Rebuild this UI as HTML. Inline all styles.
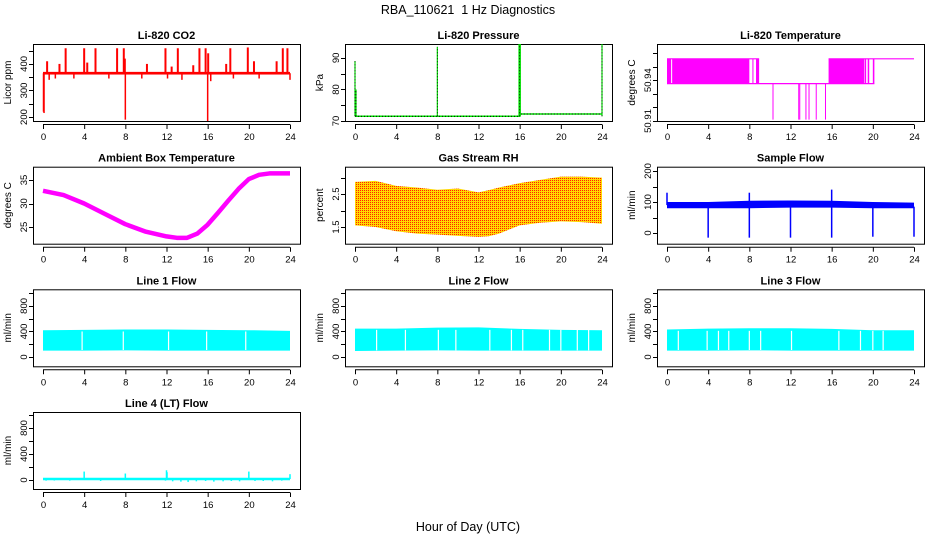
<!DOCTYPE html>
<html><head><meta charset="utf-8"><style>
html,body{margin:0;padding:0;background:#fff}
svg{display:block;font-family:"Liberation Sans",sans-serif}
</style></head><body>
<svg id="chart" width="936" height="540" viewBox="0 0 936 540" xmlns="http://www.w3.org/2000/svg">
<defs>
<pattern id="chk" width="2" height="2" patternUnits="userSpaceOnUse">
<rect width="2" height="2" fill="#ffd800"/><rect width="1" height="1" fill="#ff2000"/>
</pattern>
</defs>
<text x="468" y="14" text-anchor="middle" font-size="12.5">RBA_110621&#160; 1 Hz Diagnostics</text>
<text x="468" y="531" text-anchor="middle" font-size="12.5">Hour of Day (UTC)</text>
</svg>
<script>
// ---- data ----
const xTicks=[0,4,8,12,16,20,24];
const co2Base=365;
const co2SpikeHours=[0.4,1.6,2.2,4.0,4.3,5.1,7.2,7.85,7.95,10.1,11.9,12.5,13.1,14.6,15.2,15.8,16.05,17.8,18.2,19.9,20.5,22.7,23.3,23.75];
const co2SpikeValues=[410,400,459,459,405,459,459,459,420,400,459,390,459,395,459,459,440,400,459,462,410,410,459,459];
const co2DipHours=[0.05,0.1,8.0,16.0,0.6,1.2,3.0,6.4,9.6,12.1,13.5,16.3,18.5,21.0,24.0];
const co2DipValues=[220,215,190,185,340,345,345,345,345,345,340,335,345,345,340];
const pressBaseHours=[0,16,16,24];
const pressBaseValues=[71.5,71.5,72.2,72.2];
const pressSpikeHours=[0,0.1,8,16,24];
const pressSpikeValues=[89,80,93.5,94.4,94.4];
const tempHi=50.9557, tempLo=50.9375, tempMin=50.911;
const tempHiStart=[0,15.7], tempHiEnd=[8.95,24];
const tempLoStart=[0], tempLoEnd=[20.15];
const tempBlockStart=[0,0.5,8.3,8.65,15.7,19.2,19.5,20.0];
const tempBlockEnd=[0.4,8.0,8.4,8.95,19.15,19.35,19.65,20.15];
const tempSpikeHours=[10.3,12.8,12.9,13.5,13.8,14.5,15.4];
const ambHours=[0,2,4,6,8,10,12,13,14,15,16,17,18,19,20,21,22,24];
const ambValues=[32.7,31.8,30,27.8,25.6,24,23,22.7,22.7,23.6,25.5,28,30.6,33.1,35.2,36.1,36.4,36.4];
const rhHours=[0,2,4,6,8,10,12,13,14,16,18,20,22,24];
const rhTop=[2.87,2.9,2.75,2.7,2.63,2.67,2.55,2.62,2.7,2.83,2.93,3.03,3.03,3.0];
const rhBottom=[1.55,1.5,1.37,1.3,1.27,1.23,1.2,1.22,1.3,1.55,1.63,1.67,1.65,1.6];
const sfHours=[0,4,8,12,16,20,24];
const sfTop=[100,100,104,105,104,100,98];
const sfBottom=[80,80,80,82,82,80,80];
const sfDipHours=[4,8,12,16,20,24];
const sfDipValues=[-15,-15,-15,-15,-12,-12];
const sfSpikeHours=[0,8,16];
const sfSpikeValues=[130,130,140];
const l1Hours=[0,4,8,12,16,20,24];
const l1Top=[420,425,430,430,425,420,410];
const l1Bottom=[100,100,105,100,100,100,100];
const l1Gaps=[3.8,7.8,12.2,15.9,19.7];
const l2Hours=[0,4,8,12,16,20,24];
const l2Top=[445,445,460,465,440,425,420];
const l2Bottom=[95,100,105,100,100,100,100];
const l2Gaps=[2.1,4.9,8.1,9.8,13.1,15.2,16.3,18.9,20.0,21.6,22.7];
const l3Hours=[0,4,8,12,16,20,24];
const l3Top=[430,445,450,450,440,420,420];
const l3Bottom=[100,100,105,100,100,100,100];
const l3Gaps=[1.1,3.9,5.0,6.0,8.0,9.1,12.1,16.7,18.8,20.0,21.0];
const l4Base=15;
const l4SpikeHours=[4,8,12,12.05,20,24];
const l4SpikeValues=[130,100,150,120,130,90];
const l4DipHours=[0.3,1.1,2.6,5.6,11.9,12.6,13.4,14.1,14.9,15.8,16.6,17.5,18.3,19.1,20.6,21.4,22.3,23.2];
const l4DipValues=[-10,-8,-10,-15,-10,-20,-25,-30,-20,-15,-25,-20,-15,-20,-15,-15,-20,-10];

// ---- layout ----
const NS="http://www.w3.org/2000/svg";
const svg=document.getElementById('chart');
const cols=[33,345,657], rows=[44,166.7,289.3,412], PW=267, PH=77;
function el(tag,parent){const e=document.createElementNS(NS,tag);parent.appendChild(e);return e;}
function set(e,o){for(const k in o)e.setAttribute(k,o[k]);return e;}
function panel(c,r,ylim,ticks,labels,title,ylab,name){
  const L=cols[c],T=rows[r],B=T+PH;
  const g=el('g',svg);
  
  
  const x=h=>L+10+h*247/24;
  const y=v=>B-(v-ylim[0])/(ylim[1]-ylim[0])*PH;
  const box=set(el('rect',g),{x:L+0.5,y:T+0.5,width:PW,height:PH,fill:'none',stroke:'#000'});
  
  
  const tt=set(el('text',g),{x:L+PW/2,y:T-5,'text-anchor':'middle','font-size':11,'font-weight':'bold'});
  tt.textContent=title;
  
  
  const yl=set(el('text',g),{transform:`translate(${L-22},${T+PH/2}) rotate(-90)`,'text-anchor':'middle','font-size':10});
  yl.textContent=ylab;
  
  
  const ax=el('g',g);
  
  
  set(el('line',ax),{x1:x(0),x2:x(24),y1:B+3.5,y2:B+3.5,stroke:'#000'});
  xTicks.forEach(h=>{
    set(el('line',ax),{x1:x(h)+0.5,x2:x(h)+0.5,y1:B+3.5,y2:B+8,stroke:'#000'});
    const t=set(el('text',ax),{x:x(h)+0.5,y:B+19,'text-anchor':'middle','font-size':9.5});
    t.textContent=h;
  });
  const ay=el('g',g);
  
  
  set(el('line',ay),{x1:L+0.5,x2:L+0.5,y1:y(ticks[0]),y2:y(ticks[ticks.length-1]),stroke:'#000'});
  ticks.forEach((v,i)=>{
    set(el('line',ay),{x1:L-4,x2:L+0.5,y1:Math.round(y(v))+0.5,y2:Math.round(y(v))+0.5,stroke:'#000'});
    if(labels[i]!==''){
      const t=set(el('text',ay),{transform:`translate(${L-6},${y(v)}) rotate(-90)`,'text-anchor':'middle','font-size':9.5});
      t.textContent=labels[i];
    }
  });
  const d=el('g',g);
  
  
  return {x,y,g:d};
}
function vline(p,h,v1,v2,col,w){return set(el('line',p.g),{x1:p.x(h),x2:p.x(h),y1:p.y(v1),y2:p.y(v2),stroke:col,'stroke-width':w||1});}
function band(p,hours,top,bot,fill){
  let pts=hours.map((h,i)=>p.x(h)+','+p.y(top[i]));
  for(let i=hours.length-1;i>=0;i--)pts.push(p.x(hours[i])+','+p.y(bot[i]));
  return set(el('polygon',p.g),{points:pts.join(' '),fill:fill});
}

// 1 CO2
let p=panel(0,0,[185,475],[200,250,300,350,400,450],['200','','300','','400',''],'Li-820 CO2','Licor ppm','co2');
co2SpikeHours.forEach((h,i)=>vline(p,h,co2Base,co2SpikeValues[i],'#f00',2));
co2DipHours.forEach((h,i)=>vline(p,h,co2Base,co2DipValues[i],'#f00',1.5));
set(el('rect',p.g),{x:p.x(0),y:p.y(co2Base+5),width:p.x(24)-p.x(0),height:p.y(co2Base-5)-p.y(co2Base+5),fill:'#f00'});

// 2 Pressure
p=panel(1,0,[70,94.4],[70,75,80,85,90],['70','','80','','90'],'Li-820 Pressure','kPa','pressure');
set(el('polyline',p.g),{points:pressBaseHours.map((h,i)=>p.x(h)+','+p.y(pressBaseValues[i])).join(' '),fill:'none',stroke:'#00e000','stroke-width':1.5});
set(el('polyline',p.g),{points:pressBaseHours.map((h,i)=>p.x(h)+','+p.y(pressBaseValues[i])).join(' '),fill:'none',stroke:'#000','stroke-width':1,'stroke-dasharray':'1,2'});
pressSpikeHours.forEach((h,i)=>{vline(p,h,pressBaseValues[0],pressSpikeValues[i],'#00e000',h===16?2.5:1.2);vline(p,h,pressBaseValues[0],pressSpikeValues[i],'#000',0.8).setAttribute('stroke-dasharray','1,2');});

// 3 Temperature
p=panel(2,0,[50.91,50.9666],[50.91,50.92,50.93,50.94,50.95,50.96],['50.91','','','50.94','',''],'Li-820 Temperature','degrees C','li820-temp');
tempLoStart.forEach((s,i)=>set(el('line',p.g),{x1:p.x(s),x2:p.x(tempLoEnd[i]),y1:p.y(tempLo),y2:p.y(tempLo),stroke:'#f0f','stroke-width':1.2}));
tempHiStart.forEach((s,i)=>set(el('line',p.g),{x1:p.x(s),x2:p.x(tempHiEnd[i]),y1:p.y(tempHi),y2:p.y(tempHi),stroke:'#f0f','stroke-width':1.2}));
tempBlockStart.forEach((s,i)=>set(el('rect',p.g),{x:p.x(s),y:p.y(tempHi),width:p.x(tempBlockEnd[i])-p.x(s),height:p.y(tempLo)-p.y(tempHi),fill:'#f0f'}));
tempSpikeHours.forEach(h=>vline(p,h,tempLo,tempMin,'#f0f',1));

// 4 Ambient
p=panel(0,1,[21.45,37.83],[25,30,35],['25','30','35'],'Ambient Box Temperature','degrees C','ambient-temp');
set(el('polyline',p.g),{points:ambHours.map((h,i)=>p.x(h)+','+p.y(ambValues[i])).join(' '),fill:'none',stroke:'#f0f','stroke-width':4.5,'stroke-linejoin':'round'});

// 5 RH
p=panel(1,1,[0.994,3.33],[1.5,2.0,2.5,3.0],['1.5','','2.5',''],'Gas Stream RH','percent','rh');
band(p,rhHours,rhTop,rhBottom,'url(#chk)');

// 6 Sample flow
p=panel(2,1,[-34.5,213.9],[0,50,100,150,200],['0','','100','','200'],'Sample Flow','ml/min','sample-flow');
band(p,sfHours,sfTop,sfBottom,'#00f');
sfDipHours.forEach((h,i)=>vline(p,h,85,sfDipValues[i],'#00f',1.5));
sfSpikeHours.forEach((h,i)=>vline(p,h,90,sfSpikeValues[i],'#00f',1.5));

// 7-9 Line flows
const flowTicks=[0,200,400,600,800,1000], flowLabels=['0','','400','','800',''];
[[0,'Line 1 Flow','line1',l1Hours,l1Top,l1Bottom,l1Gaps],[1,'Line 2 Flow','line2',l2Hours,l2Top,l2Bottom,l2Gaps],[2,'Line 3 Flow','line3',l3Hours,l3Top,l3Bottom,l3Gaps]].forEach(a=>{
  const q=panel(a[0],2,[-145,1060],flowTicks,flowLabels,a[1],'ml/min',a[2]);
  band(q,a[3],a[4],a[5],'#0ff');
  a[6].forEach(h=>vline(q,h,a[5][0]+10,a[4][0]-20,'#fff',1.2));
});

// 10 Line 4
p=panel(0,3,[-138,1046],flowTicks,flowLabels,'Line 4 (LT) Flow','ml/min','line4');
set(el('line',p.g),{x1:p.x(0),x2:p.x(24),y1:p.y(l4Base),y2:p.y(l4Base),stroke:'#0ff','stroke-width':2.5});
l4SpikeHours.forEach((h,i)=>vline(p,h,l4Base,l4SpikeValues[i],'#0ff',1.5));
l4DipHours.forEach((h,i)=>vline(p,h,l4Base,l4DipValues[i],'#0ff',1.5));
</script>
</body></html>
